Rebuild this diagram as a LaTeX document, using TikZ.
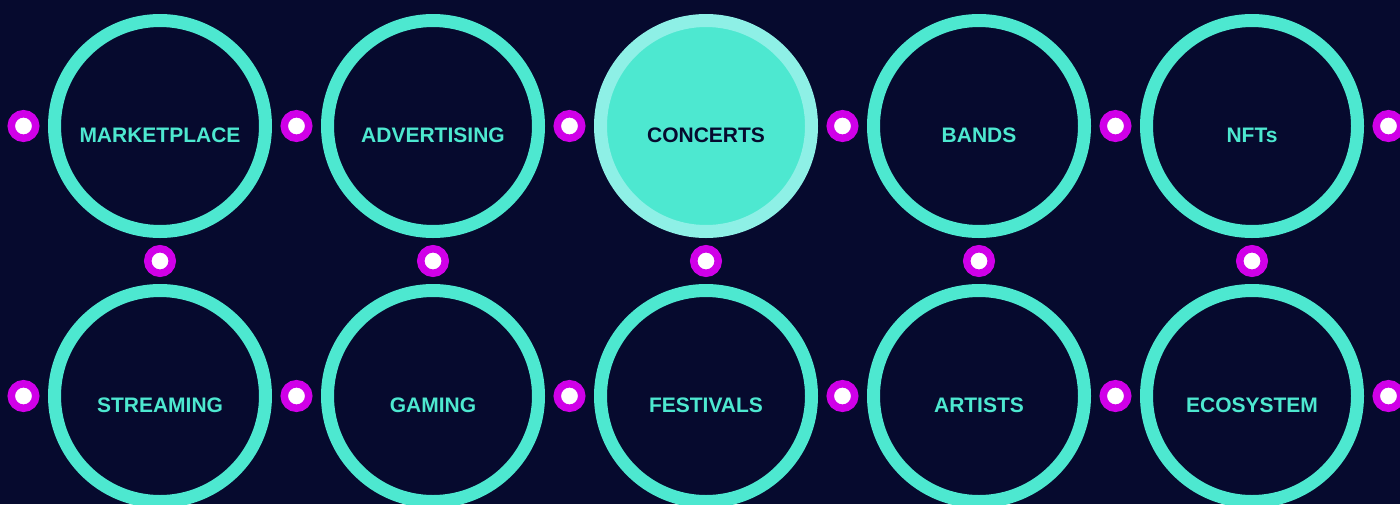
\documentclass[tikz,border=0pt]{standalone}
\usepackage{fontspec}
\setmainfont{Liberation Sans}
\usetikzlibrary{positioning}
\definecolor{navy}{RGB}{6,10,46}
\definecolor{ringteal}{RGB}{77,232,208}
\definecolor{ringpale}{RGB}{142,240,230}
\definecolor{dotmag}{RGB}{208,0,232}
\begin{document}
\begin{tikzpicture}[x=1pt, y=-1pt, node distance=273pt]
			\tikzset{
				ring/.style={circle, minimum size=211pt, inner sep=0pt, draw=ringteal, line width=13pt, fill=navy},
				ringon/.style={ring, draw=ringpale, fill=ringteal},
				lbl/.style={font=\fontsize{21}{25}\selectfont\bfseries, text=ringteal, inner sep=0pt},
				lblon/.style={lbl, text=navy},
				dot/.style={circle, minimum size=24.5pt, inner sep=0pt, draw=dotmag, line width=7.5pt, fill=white},
			}
			\clip (0,0) rectangle (1400,504);
			\fill[navy] (0,0) rectangle (1400,504);
			%top row
			\node[ring] (mkt) at (160,126) {};
			\node[ring, right of=mkt] (adv) {};
			\node[ringon, right of=adv] (con) {};
			\node[ring, right of=con] (bnd) {};
			\node[ring, right of=bnd] (nft) {};
			%bottom row
			\node[ring, below of=mkt, node distance=270pt] (str) {};
			\node[ring, right of=str] (gam) {};
			\node[ring, right of=gam] (fes) {};
			\node[ring, right of=fes] (art) {};
			\node[ring, right of=art] (eco) {};
			%labels
			\node[lbl] (mkt-t) at ([yshift=-9.5pt]mkt.center) {MARKETPLACE};
			\node[lbl] (adv-t) at ([yshift=-9.5pt]adv.center) {ADVERTISING};
			\node[lblon] (con-t) at ([yshift=-9.5pt]con.center) {CONCERTS};
			\node[lbl] (bnd-t) at ([yshift=-9.5pt]bnd.center) {BANDS};
			\node[lbl] (nft-t) at ([yshift=-9.5pt]nft.center) {NFTs};
			\node[lbl] (str-t) at ([yshift=-9.5pt]str.center) {STREAMING};
			\node[lbl] (gam-t) at ([yshift=-9.5pt]gam.center) {GAMING};
			\node[lbl] (fes-t) at ([yshift=-9.5pt]fes.center) {FESTIVALS};
			\node[lbl] (art-t) at ([yshift=-9.5pt]art.center) {ARTISTS};
			\node[lbl] (eco-t) at ([yshift=-9.5pt]eco.center) {ECOSYSTEM};
			%dots
			\node[dot, left of=mkt, node distance=136.5pt] (mkt-l) {};
			\node[dot, right of=mkt, node distance=136.5pt] (mkt-r) {};
			\node[dot, right of=adv, node distance=136.5pt] (adv-r) {};
			\node[dot, right of=con, node distance=136.5pt] (con-r) {};
			\node[dot, right of=bnd, node distance=136.5pt] (bnd-r) {};
			\node[dot, right of=nft, node distance=136.5pt] (nft-r) {};
			\node[dot, left of=str, node distance=136.5pt] (str-l) {};
			\node[dot, right of=str, node distance=136.5pt] (str-r) {};
			\node[dot, right of=gam, node distance=136.5pt] (gam-r) {};
			\node[dot, right of=fes, node distance=136.5pt] (fes-r) {};
			\node[dot, right of=art, node distance=136.5pt] (art-r) {};
			\node[dot, right of=eco, node distance=136.5pt] (eco-r) {};
			\node[dot, below of=mkt, node distance=135pt] (mkt-b) {};
			\node[dot, below of=adv, node distance=135pt] (adv-b) {};
			\node[dot, below of=con, node distance=135pt] (con-b) {};
			\node[dot, below of=bnd, node distance=135pt] (bnd-b) {};
			\node[dot, below of=nft, node distance=135pt] (nft-b) {};
		\end{tikzpicture}
\end{document}
